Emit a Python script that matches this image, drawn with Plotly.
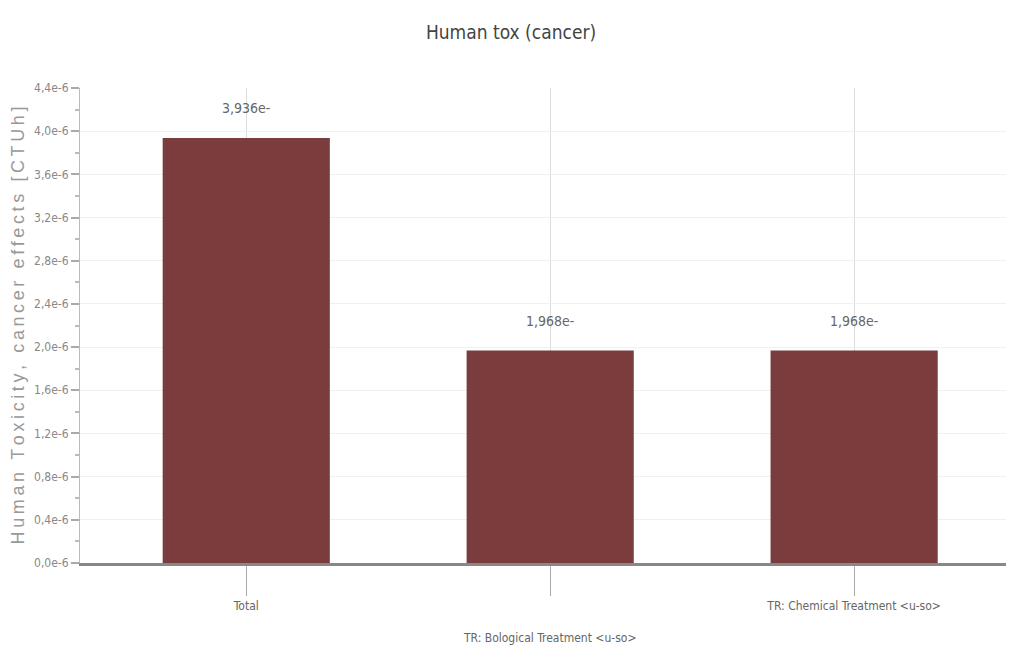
import plotly.graph_objects as go

CATEGORIES = ["Total", "TR: Bological Treatment <u-so>", "TR: Chemical Treatment <u-so>"]
VALUES = [3.936e-6, 1.968e-6, 1.968e-6]
BAR_LABELS = ["3,936e-", "1,968e-", "1,968e-"]
Y_TICKS = [0, 0.4e-6, 0.8e-6, 1.2e-6, 1.6e-6, 2.0e-6, 2.4e-6, 2.8e-6, 3.2e-6, 3.6e-6, 4.0e-6, 4.4e-6]
Y_TICK_LABELS = ["0,0e-6", "0,4e-6", "0,8e-6", "1,2e-6", "1,6e-6", "2,0e-6",
                 "2,4e-6", "2,8e-6", "3,2e-6", "3,6e-6", "4,0e-6", "4,4e-6"]
Y_TITLE = "Human Toxicity, cancer effects [CTUh]"

BAR = "#7a3c3c"
TXT = "#666666"
FONT = "'DejaVu Sans Condensed', 'Liberation Sans Narrow', sans-serif"

# staggered tick text: every second label pushed down
tick_text = []
for i, c in enumerate(CATEGORIES):
    c = c.replace("<", "&lt;").replace(">", "&gt;")
    tick_text.append(("<br><br>" + c) if i % 2 else c)

# the axis title is letter-spaced in the original
spaced_title = "\u2009".join(Y_TITLE)

fig = go.Figure(go.Bar(
    x=list(range(len(CATEGORIES))),
    y=VALUES,
    width=0.55,
    marker=dict(color=BAR, line=dict(width=0)),
    hoverinfo="skip",
))

for i, (v, lab) in enumerate(zip(VALUES, BAR_LABELS)):
    fig.add_annotation(x=i, y=v, text=lab, showarrow=False, yshift=30,
                       font=dict(size=14, color=TXT, family=FONT))

# page body has an 8px margin, so size the figure to land where the original does
fig.update_layout(
    title=dict(text="Human tox (cancer)", x=0.5, xanchor="center", y=0.962, yanchor="middle",
               font=dict(size=19, color="#444444", family=FONT)),
    paper_bgcolor="white",
    plot_bgcolor="white",
    width=1006, height=645,
    margin=dict(l=72, r=0, t=80, b=90),
    showlegend=False,
    font=dict(family=FONT, color=TXT),
)

fig.update_xaxes(
    range=[-0.547, 2.526],
    tickvals=list(range(len(CATEGORIES))),
    ticktext=tick_text,
    ticks="outside", ticklen=30, tickcolor="#aaaaaa", tickwidth=1,
    tickfont=dict(size=12, color=TXT, family=FONT),
    showgrid=True, gridcolor="#dddddd", gridwidth=1,
    showline=True, linecolor="#888888", linewidth=3,
    zeroline=False,
    automargin=False,
)

fig.update_yaxes(
    range=[0, 4.4e-6],
    tickvals=Y_TICKS,
    ticktext=Y_TICK_LABELS,
    ticks="outside", ticklen=8, tickcolor="#aaaaaa", tickwidth=2,
    minor=dict(dtick=0.2e-6, ticks="outside", ticklen=4, tickcolor="#bbbbbb", tickwidth=2,
               showgrid=False),
    tickfont=dict(size=12, color="#888888", family=FONT),
    showgrid=True, gridcolor="#f0f0f0", gridwidth=1,
    showline=True, linecolor="#bbbbbb", linewidth=1,
    zeroline=False,
    automargin=False,
    title=dict(text=spaced_title, standoff=6,
               font=dict(size=18, color="#999999", family="'Liberation Sans', Arial, sans-serif")),
)

fig.write_html("out.html")
